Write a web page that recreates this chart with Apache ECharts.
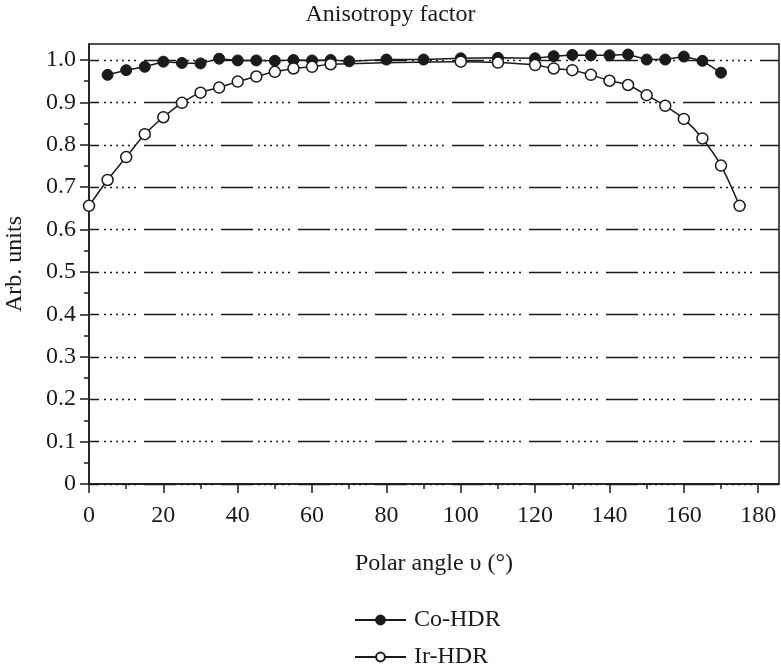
<!DOCTYPE html>
<html>
<head>
<meta charset="utf-8">
<script src="https://cdn.jsdelivr.net/npm/echarts@6/dist/echarts.min.js"></script>
<style>html,body{margin:0;padding:0;background:#fff}#c{width:781px;height:667px}</style>
</head>
<body>
<div id="c"></div>
<script>
var titleText = 'Anisotropy factor';
var xName = 'Polar angle \u03c5 (\u00b0)';
var yName = 'Arb. units';
var coName = 'Co-HDR';
var irName = 'Ir-HDR';

var coAngles = [5,10,15,20,25,30,35,40,45,50,55,60,65,70,80,90,100,110,120,125,130,135,140,145,150,155,160,165,170];
var coValues = [0.965,0.976,0.984,0.996,0.993,0.992,1.003,0.999,0.999,0.998,1.0,0.999,1.0,0.997,1.001,1.001,1.004,1.005,1.004,1.009,1.012,1.011,1.011,1.013,1.001,1.001,1.008,0.998,0.970];

var irAngles = [0,5,10,15,20,25,30,35,40,45,50,55,60,65,100,110,120,125,130,135,140,145,150,155,160,165,170,175];
var irValues = [0.656,0.717,0.771,0.825,0.865,0.899,0.923,0.935,0.949,0.961,0.972,0.980,0.984,0.990,0.996,0.994,0.988,0.980,0.976,0.965,0.951,0.941,0.917,0.892,0.861,0.815,0.751,0.656];

var xTicks = [0,20,40,60,80,100,120,140,160,180];
var yTicks = [0,0.1,0.2,0.3,0.4,0.5,0.6,0.7,0.8,0.9,1.0];

function pairs(a, b){ return a.map(function(v,i){ return [v, b[i]]; }); }

var FONT = 'Liberation Serif';
var INK = '#1a1a1a';
var legendBase = {
  orient: 'vertical', left: 354, padding: 0,
  itemWidth: 51, itemHeight: 11,
  textStyle: {fontFamily: FONT, fontSize: 24, color: INK, padding: [0, 0, 0, 3]}
};
var chart = echarts.init(document.getElementById('c'), null, {renderer:'canvas'});
chart.setOption({
  animation: false,
  backgroundColor: '#fff',
  title: {
    text: titleText, left: 'center', top: -2,
    textStyle: {fontFamily: FONT, fontSize: 24, fontWeight: 'normal', color: INK}
  },
  grid: {left: 89, right: 2, top: 44, bottom: 183, outerBoundsMode: 'none', containLabel: false,
    show: true, borderColor: INK, borderWidth: 1.5, backgroundColor: 'transparent'},
  legend: [
    Object.assign({}, legendBase, {top: 608, data: [coName]}),
    Object.assign({}, legendBase, {top: 645, data: [irName]})
  ],
  xAxis: {
    type: 'value', min: 0, max: 185.6, interval: 20,
    name: xName, nameLocation: 'middle', nameGap: 68,
    nameTextStyle: {fontFamily: FONT, fontSize: 24, color: INK},
    axisLine: {show: true, onZero: false, lineStyle: {color: INK, width: 1.5}},
    axisTick: {show: true, length: 9, customValues: xTicks, lineStyle: {color: INK, width: 1.5}},
    minorTick: {show: true, splitNumber: 2, length: 5, lineStyle: {color: INK, width: 1.5}},
    axisLabel: {customValues: xTicks, margin: 20, fontFamily: FONT, fontSize: 24, color: INK},
    splitLine: {show: false}
  },
  yAxis: {
    type: 'value', min: 0, max: 1.0377, interval: 0.1,
    name: yName, nameLocation: 'middle', nameGap: 62, nameRotate: 90,
    nameTextStyle: {fontFamily: FONT, fontSize: 24, color: INK},
    axisLine: {show: true, onZero: false, lineStyle: {color: INK, width: 1.5}},
    axisTick: {show: true, length: 9, customValues: yTicks, lineStyle: {color: INK, width: 1.5}},
    minorTick: {show: true, splitNumber: 2, length: 5, lineStyle: {color: INK, width: 1.5}},
    axisLabel: {customValues: yTicks, margin: 13, fontFamily: FONT, fontSize: 24, color: INK,
      formatter: function(v){ return v === 0 ? '0' : v.toFixed(1); }},
    splitLine: {show: true, lineStyle: {color: INK, width: 1.4, type: [32,5,2,4,2,4,2,4,2,4,2,4,2,8], dashOffset: 22}}
  },
  series: [
    {
      name: coName, type: 'line', data: pairs(coAngles, coValues),
      symbol: 'circle', symbolSize: 11, z: 3,
      lineStyle: {color: INK, width: 1.5},
      itemStyle: {color: INK, borderColor: INK, borderWidth: 1}
    },
    {
      name: irName, type: 'line', data: pairs(irAngles, irValues),
      symbol: 'circle', symbolSize: 11, smooth: 0.3, z: 4,
      lineStyle: {color: INK, width: 1.5},
      itemStyle: {color: '#fff', borderColor: INK, borderWidth: 1.5}
    }
  ]
});
</script>
</body>
</html>
